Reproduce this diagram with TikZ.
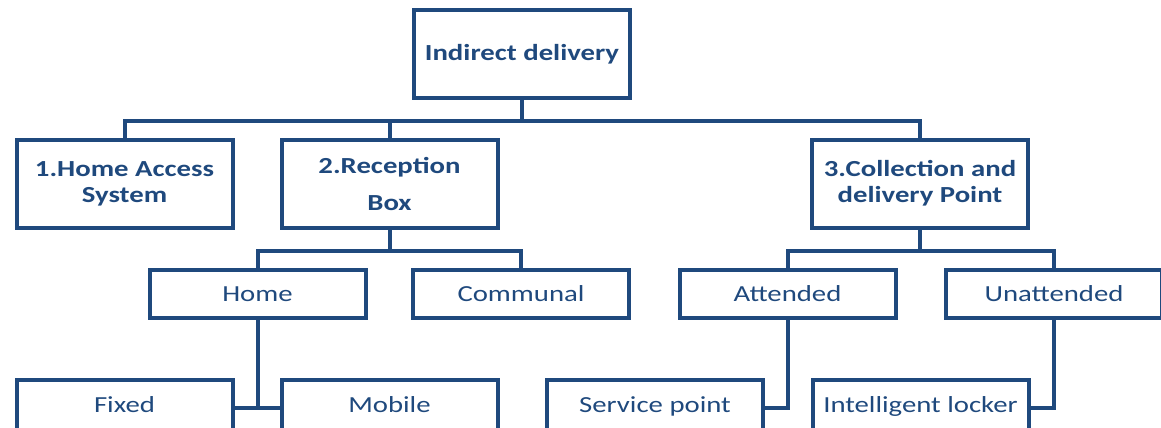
\documentclass[tikz,border=0pt]{standalone}
\usepackage{fontspec}
\setmainfont{Carlito}[FakeStretch=1.25]
\usepackage{tikz}
\definecolor{navy}{RGB}{31,73,125}
\tikzset{
  boxS/.style  ={draw=navy, line width=4pt, text=navy, align=center, inner sep=0pt,
                 minimum width=216pt, font=\fontsize{23}{26}\selectfont},
  headS/.style ={boxS, font=\bfseries\fontsize{23}{26}\selectfont, minimum height=88pt},
  leafS/.style ={boxS, minimum height=48pt},
  lowS/.style  ={boxS, minimum height=56pt, text height=16pt, text depth=8pt},
  link/.style  ={draw=navy, line width=4pt},
}

\begin{document}
\begin{tikzpicture}[x=1pt,y=-1pt]
  \path[use as bounding box, clip] (0,0) rectangle (1161,428);
  % top level
  \node[headS] (root) at (522,54) {Indirect delivery};
  \node[headS] (has)  at (124.5,183.5) {1.Home Access\\System};
  \node[headS] (rbox) at (389.5,183.5) {2.Reception\\[11pt]Box};
  \node[headS] (cdp)  at (920,183.5) {3.Collection and\\delivery Point};
  % second level
  \node[leafS] (home)   at (257.5,294) {Home};
  \node[leafS] (comm)   at (521,294)   {Communal};
  \node[leafS] (att)    at (787.5,294) {Attended};
  \node[leafS] (unatt)  at (1054,294)  {Unattended};
  % third level
  \node[lowS] (fixed)  at (124.5,408) {Fixed};
  \node[lowS] (mobile) at (389.5,408) {Mobile};
  \node[lowS] (svc)    at (655,408)   {Service point};
  \node[lowS] (locker) at (920.5,408) {Intelligent locker};
  % connectors
  \draw[link] (root.south) -- ++(0,20.5) -| (has.north);
  \draw[link] (root.south) -- ++(0,20.5) -| (rbox.north);
  \draw[link] (root.south) -- ++(0,20.5) -| (cdp.north);
  \draw[link] (rbox.south) -- ++(0,21) -| (home.north);
  \draw[link] (rbox.south) -- ++(0,21) -| (comm.north);
  \draw[link] (cdp.south)  -- ++(0,21) -| (att.north);
  \draw[link] (cdp.south)  -- ++(0,21) -| (unatt.north);
  \draw[link] (home.south) -- (home.south |- fixed.east) -- (fixed.east);
  \draw[link] (home.south |- mobile.west) -- (mobile.west);
  \draw[link] (att.south)  |- (svc.east);
  \draw[link] (unatt.south) |- (locker.east);
\end{tikzpicture}
\end{document}
